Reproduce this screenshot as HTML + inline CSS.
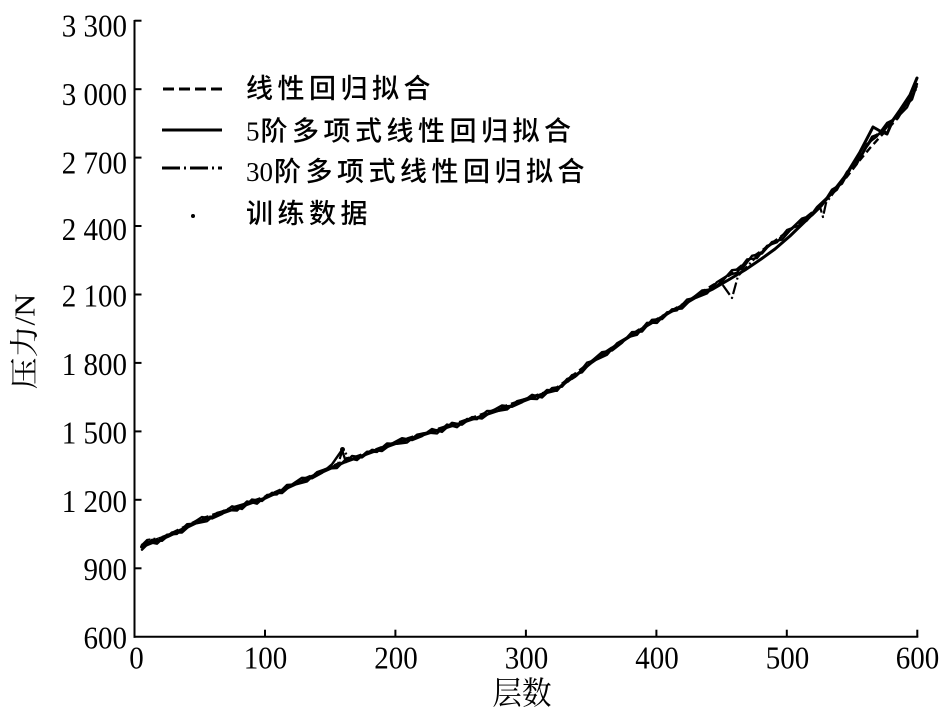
<!DOCTYPE html>
<html>
<head>
<meta charset="utf-8">
<style>
  html, body { margin: 0; padding: 0; background: #fff; }
  svg { display: block; }
  .tick { font-family: "Liberation Serif", "Noto Serif CJK SC", serif; font-size: 29px; fill: #000; }
  .cjk { font-family: "Liberation Sans", "Noto Sans CJK SC", sans-serif; font-size: 27px; font-weight: 500; letter-spacing: 4.5px; fill: #000; }
  .dig { font-family: "Liberation Serif", "Noto Serif CJK SC", serif; font-size: 27px; fill: #000; letter-spacing: 0; }
  .axl { font-family: "Liberation Serif", "Noto Serif CJK SC", serif; font-size: 29px; fill: #000; }
</style>
</head>
<body>
<svg width="950" height="720" viewBox="0 0 950 720" xmlns="http://www.w3.org/2000/svg">
  <rect x="0" y="0" width="950" height="720" fill="#fff"/>

  <!-- axes -->
  <g stroke="#000" stroke-width="2" fill="none">
    <line x1="134.5" y1="20" x2="134.5" y2="637.7"/>
    <line x1="133.5" y1="636.7" x2="918.3" y2="636.7"/>
    <line x1="134.5" y1="20.7" x2="141.5" y2="20.7"/>
    <line x1="134.5" y1="89.2" x2="141.5" y2="89.2"/>
    <line x1="134.5" y1="157.6" x2="141.5" y2="157.6"/>
    <line x1="134.5" y1="226.0" x2="141.5" y2="226.0"/>
    <line x1="134.5" y1="294.5" x2="141.5" y2="294.5"/>
    <line x1="134.5" y1="362.9" x2="141.5" y2="362.9"/>
    <line x1="134.5" y1="431.4" x2="141.5" y2="431.4"/>
    <line x1="134.5" y1="499.8" x2="141.5" y2="499.8"/>
    <line x1="134.5" y1="568.3" x2="141.5" y2="568.3"/>
    <line x1="265.0" y1="636.7" x2="265.0" y2="629.7"/>
    <line x1="395.4" y1="636.7" x2="395.4" y2="629.7"/>
    <line x1="525.9" y1="636.7" x2="525.9" y2="629.7"/>
    <line x1="656.4" y1="636.7" x2="656.4" y2="629.7"/>
    <line x1="786.8" y1="636.7" x2="786.8" y2="629.7"/>
    <line x1="917.3" y1="636.7" x2="917.3" y2="629.7"/>
  </g>

  <!-- y tick labels -->
  <g class="tick" text-anchor="end">
    <text transform="translate(127,36.6) scale(1,1.1)">3 300</text>
    <text transform="translate(127,105) scale(1,1.1)">3 000</text>
    <text transform="translate(127,173.3) scale(1,1.1)">2 700</text>
    <text transform="translate(127,239.8) scale(1,1.1)">2 400</text>
    <text transform="translate(127,306.6) scale(1,1.1)">2 100</text>
    <text transform="translate(127,374.8) scale(1,1.1)">1 800</text>
    <text transform="translate(127,443.3) scale(1,1.1)">1 500</text>
    <text transform="translate(127,511.8) scale(1,1.1)">1 200</text>
    <text transform="translate(127,579.8) scale(1,1.1)">900</text>
    <text transform="translate(127,648.3) scale(1,1.1)">600</text>
  </g>

  <!-- x tick labels -->
  <g class="tick" text-anchor="middle">
    <text transform="translate(136.5,668.3) scale(1,1.1)">0</text>
    <text transform="translate(265.5,668.3) scale(1,1.1)">100</text>
    <text transform="translate(396,668.3) scale(1,1.1)">200</text>
    <text transform="translate(526.5,668.3) scale(1,1.1)">300</text>
    <text transform="translate(657,668.3) scale(1,1.1)">400</text>
    <text transform="translate(787.5,668.3) scale(1,1.1)">500</text>
    <text transform="translate(917.5,668.3) scale(1,1.1)">600</text>
  </g>

  <!-- axis labels -->
  <text class="axl" text-anchor="middle" dominant-baseline="central" transform="translate(25,341.5) rotate(-90) scale(1.1,1)">压力/N</text>
  <text class="axl" text-anchor="middle" transform="translate(522,704) scale(1.02,1.1)">层数</text>

  <!-- series -->
  <g fill="none" stroke="#000" stroke-linejoin="round" stroke-linecap="round">
    <!-- training data -->
    <polyline stroke-width="2.4" points="142,549.7 152,539.8 162,540.8 172,532.4 182,532.5 192,523.6 202,517 212,518.5 222,514 232,506.3 242,509 252,499.5 262,501 272,492.8 282,493.1 292,484.5 302,477.8 312,478.3 322,472.8 332,464.3 342,450 346,462 352,456 362,457.4 372,449.8 382,451.1 392,443.5 402,438.2 412,440.1 422,436.1 432,429 442,431.9 452,422.8 462,424.7 472,417.1 482,418.5 492,411 502,405.4 512,406.8 522,402.3 532,394.8 542,397.5 552,388.1 562,386.7 572,375.1 582,372.4 592,360.8 602,352.2 612,350.5 622,342.8 632,332.1 642,331.6 652,319.8 662,319.1 672,309.3 682,308.5 692,298.5 702,290.5 712,289.5 722,281.4 732,270.2 742,269 752,255.8 762,253.5 772,242 782,239.6 792,228.1 802,218.5 812,215.4 822,205.4 832,189.6 842,183.7 852,165.5 862,155.1 872,136.8 882,132.9 892,120.8 902,108.5 912,99.5 917,84"/>
    <polyline stroke-width="2.2" points="143,547 147,541.8 157,543.8 167,534.6 177,534.0 187,524.1 197,523.3 207,521.3 217,512.8 227,510.2 237,510.7 247,501.3 257,503.8 267,494.9 277,494.5 287,484.8 297,484.2 307,481.6 317,472.1 327,468.6 337,468.1 347,457.9 357,460.2 367,451.6 377,452.0 387,443.3 397,443.9 407,442.7 417,434.6 427,432.6 437,433.5 447,424.4 457,427.3 467,418.9 477,419.3 487,410.8 497,411.2 507,409.6 517,401.1 527,398.6 537,399.2 547,389.8 557,390.9 567,378.9 577,375.3 587,362.6 597,359.5 607,354.9 617,343.2 627,337.5 637,334.9 647,322.7 657,323.0 667,312.2 677,310.4 687,299.5 697,297.5 707,293.5 717,282.0 727,275.8 737,272.6 747,259.4 757,258.2 767,245.8 777,242.3 787,229.9 797,226.3 807,220.5 817,206.9 827,197.5 837,189.7 847,171.6 857,163.8 867,144 877,136.4 887,122.9 897,117.7 907,107.5 915,90"/>
    <circle cx="342.5" cy="449.5" r="2.5" fill="#000" stroke="none"/>
    <!-- 5th order solid -->
    <polyline stroke-width="3" points="141.5,547 167.6,536.6 200.2,521 232.8,509.5 265.5,498 304.6,480 343.7,462.5 395.9,443.5 461.1,423 500,410 526.4,400 545,393 555,390.5 565,383 575,376 591.6,362.5 615,346 639.8,330 660,318 682.9,305 700,295 712.9,289 730,279 745,270 761.2,259 775,249 790,236 800.3,226 819.9,207 835,189 845.9,175 860,152 873,127 880,131 887,134 893,120 900,110 910,95 917,78"/>
    <!-- linear dashed -->
    <polyline stroke-width="2.4" stroke-dasharray="7 4" stroke-linecap="butt" points="141.5,545 167.6,535 200.2,519 232.8,508 265.5,496.5 304.6,478.5 343.7,461 395.9,442 461.1,421.5 526.4,398.5 555,389 591.6,361 639.8,329 682.9,304 712.9,285 730,275 747,261 761.2,251 800.3,222 819.9,206 845.9,178 860,160 870,148 880,137 898,118 917,86"/>
    <!-- 30th order dash-dot -->
    <polyline stroke-width="2.2" stroke-dasharray="12 3 2 3" stroke-linecap="butt" points="141,546 147,540 160,538 175,532 200,521 230,508 265,498 300,481 330,468 338,464 343,449 350,460 360,456 396,443 430,432 461,423 500,409 526,400 555,390 575,377 592,362 640,330 683,305 713,287 722,284 732,298 738,276 761,252 800,223 820,207 823,217 826,203 846,176 873,138 898,116 905,105 917,88"/>
  </g>

  <!-- legend -->
  <g stroke="#000" stroke-width="3" fill="none">
    <line x1="163" y1="89" x2="223" y2="89" stroke-dasharray="11 5"/>
    <line x1="162" y1="130" x2="222" y2="130"/>
    <line x1="162" y1="168" x2="222" y2="168" stroke-dasharray="18 4 2 4"/>
  </g>
  <circle cx="193" cy="216" r="2" fill="#000"/>

  <text x="246" y="98"><tspan class="cjk">线性回归拟合</tspan></text>
  <text x="246" y="140.5"><tspan class="dig">5</tspan><tspan class="cjk" dx="1">阶多项式线性回归拟合</tspan></text>
  <text x="246" y="181"><tspan class="dig">30</tspan><tspan class="cjk" dx="1">阶多项式线性回归拟合</tspan></text>
  <text x="246" y="223"><tspan class="cjk">训练数据</tspan></text>
</svg>
</body>
</html>
